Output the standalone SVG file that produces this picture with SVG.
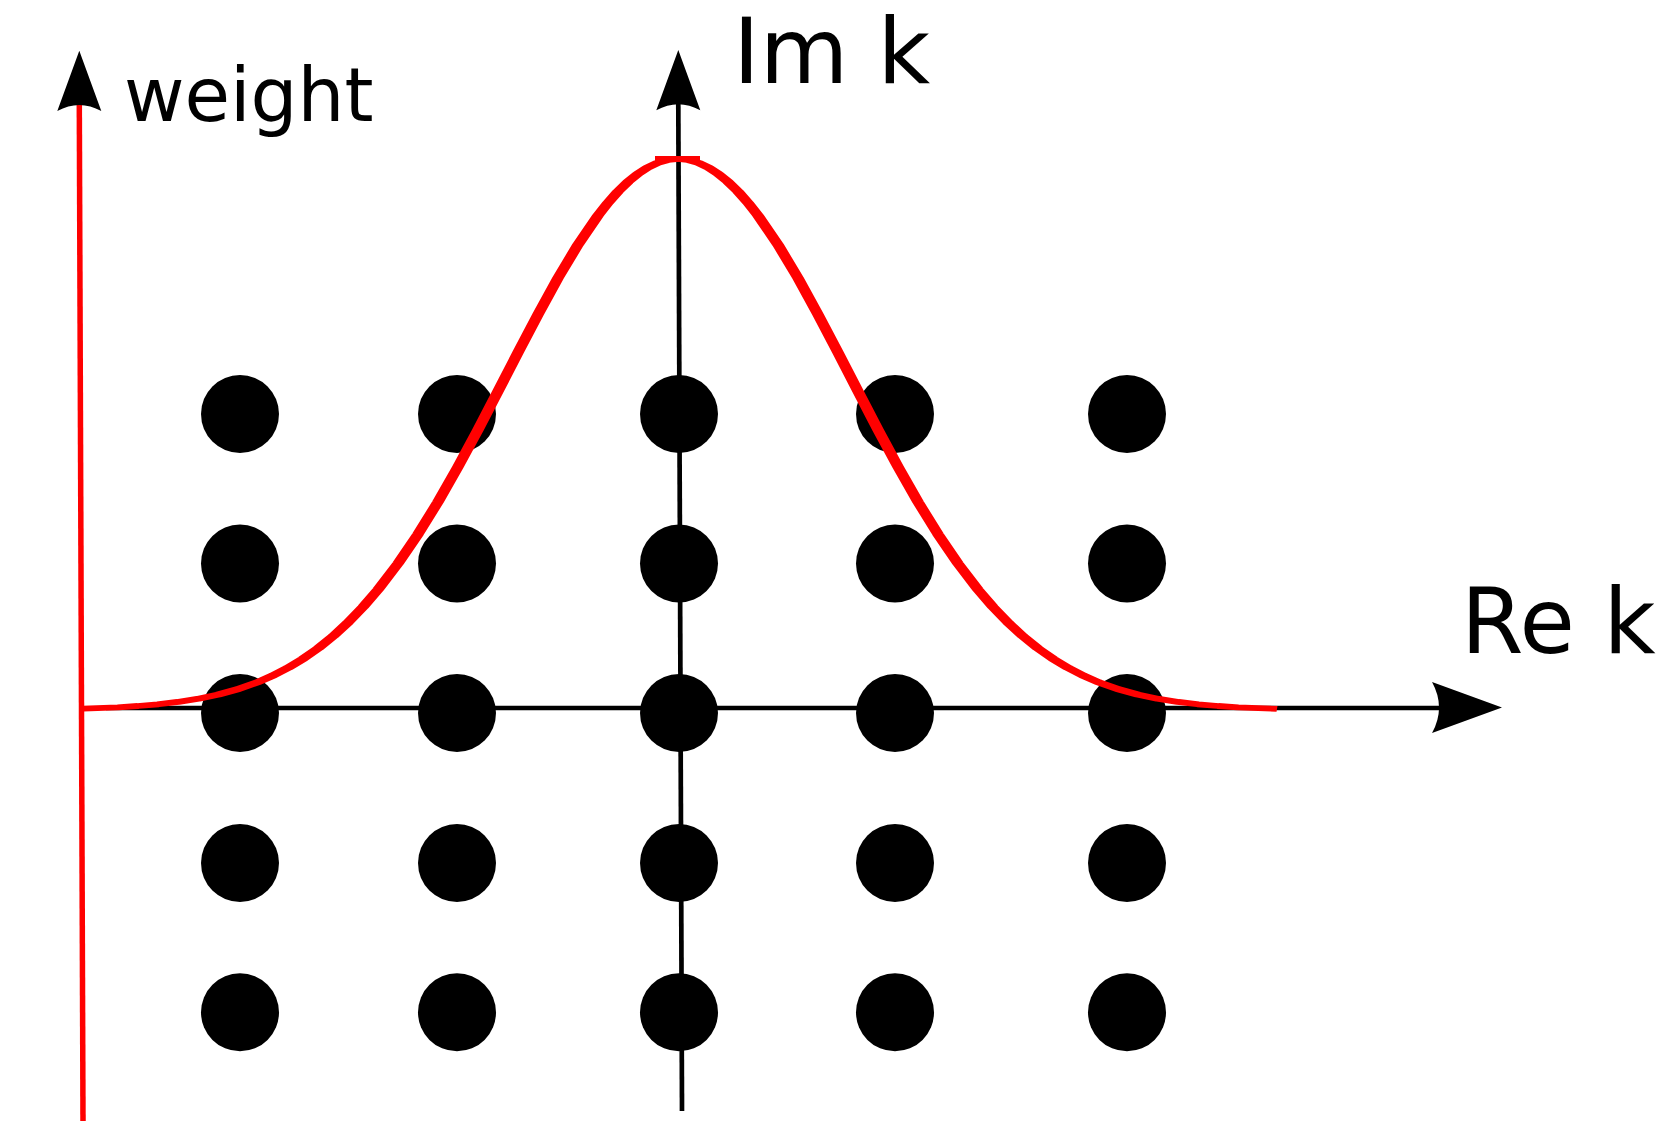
<svg xmlns="http://www.w3.org/2000/svg" width="1664" height="1121" viewBox="0 0 1664 1121">
<style>
.axis{stroke:#000;stroke-width:4.7;fill:none}
.waxis{stroke:#ff0000;stroke-width:5.5;fill:none}
.curve{stroke:#ff0000;stroke-width:5.8;fill:none;stroke-linejoin:round}
.dot{fill:#000}
.lbl{font-family:"DejaVu Sans",sans-serif;fill:#000}
</style>
<defs>
<path id="ah" d="M0,0 L22,60.3 Q0,48.3 -22,60.3 Z" fill="#000"/>
</defs>
<rect width="1664" height="1121" fill="#fff"/>
<g id="connectors">
<line class="waxis" x1="79.3" y1="104" x2="83" y2="1121"/>
<use href="#ah" transform="translate(79.3,50.7)"/>
<line class="axis" x1="678.3" y1="104" x2="682" y2="1111"/>
<use href="#ah" transform="translate(678.3,50)"/>
<line class="axis" x1="106" y1="708" x2="1442" y2="708"/>
<use href="#ah" transform="translate(1502,707.5) rotate(90) scale(1.16)"/>
</g>
<g id="dots">
<g id="d11"><circle class="dot" cx="240" cy="414" r="39"/></g>
<g id="d12"><circle class="dot" cx="457" cy="414" r="39"/></g>
<g id="d13"><circle class="dot" cx="679" cy="414" r="39"/></g>
<g id="d14"><circle class="dot" cx="895" cy="414" r="39"/></g>
<g id="d15"><circle class="dot" cx="1127" cy="414" r="39"/></g>
<g id="d21"><circle class="dot" cx="240" cy="563.5" r="39"/></g>
<g id="d22"><circle class="dot" cx="457" cy="563.5" r="39"/></g>
<g id="d23"><circle class="dot" cx="679" cy="563.5" r="39"/></g>
<g id="d24"><circle class="dot" cx="895" cy="563.5" r="39"/></g>
<g id="d25"><circle class="dot" cx="1127" cy="563.5" r="39"/></g>
<g id="d31"><circle class="dot" cx="240" cy="713" r="39"/></g>
<g id="d32"><circle class="dot" cx="457" cy="713" r="39"/></g>
<g id="d33"><circle class="dot" cx="679" cy="713" r="39"/></g>
<g id="d34"><circle class="dot" cx="895" cy="713" r="39"/></g>
<g id="d35"><circle class="dot" cx="1127" cy="713" r="39"/></g>
<g id="d41"><circle class="dot" cx="240" cy="863" r="39"/></g>
<g id="d42"><circle class="dot" cx="457" cy="863" r="39"/></g>
<g id="d43"><circle class="dot" cx="679" cy="863" r="39"/></g>
<g id="d44"><circle class="dot" cx="895" cy="863" r="39"/></g>
<g id="d45"><circle class="dot" cx="1127" cy="863" r="39"/></g>
<g id="d51"><circle class="dot" cx="240" cy="1012.3" r="39"/></g>
<g id="d52"><circle class="dot" cx="457" cy="1012.3" r="39"/></g>
<g id="d53"><circle class="dot" cx="679" cy="1012.3" r="39"/></g>
<g id="d54"><circle class="dot" cx="895" cy="1012.3" r="39"/></g>
<g id="d55"><circle class="dot" cx="1127" cy="1012.3" r="39"/></g>
</g>
<g id="gaussian" transform="scale(2,1)">
<polyline class="curve" points="41.5,708.6 59,707.3 69,706 79,704.3 89,701.9 99,698.8 109,694.6 119,689.1 129,682.1 136.5,675.5 144,667.8 151.5,658.8 159,648.4 166.5,636.3 174,622.5 181.5,607 189,589.6 199,563.5 209,534.2 219,501.9 229,466.8 239,429.7 249,391.3 259,352.5 269,314.4 279,278 289,244.7 299,215.5 304,202.8 309,191.5 314,181.8 319,173.7 324,167.3 329,162.7 334,159.9 339,159 344,159.9 349,162.7 354,167.3 359,173.7 364,181.8 369,191.5 374,202.8 379,215.5 389,244.7 399,278 409,314.4 419,352.5 429,391.3 439,429.7 449,466.8 459,501.9 469,534.2 479,563.5 489,589.6 496.5,607 504,622.5 511.5,636.3 519,648.4 526.5,658.8 534,667.8 541.5,675.5 549,682.1 559,689.1 569,694.6 579,698.8 589,701.9 599,704.3 609,706 619,707.3 638.5,708.9"/>
<line class="curve" x1="327.5" y1="159" x2="350" y2="159"/>
</g>
<g id="labels">
<text class="lbl" x="124" y="121" font-size="74">weight</text>
<text class="lbl" x="733" y="83" font-size="91">Im k</text>
<text class="lbl" x="1461" y="653" font-size="90">Re k</text>
</g>
</svg>
